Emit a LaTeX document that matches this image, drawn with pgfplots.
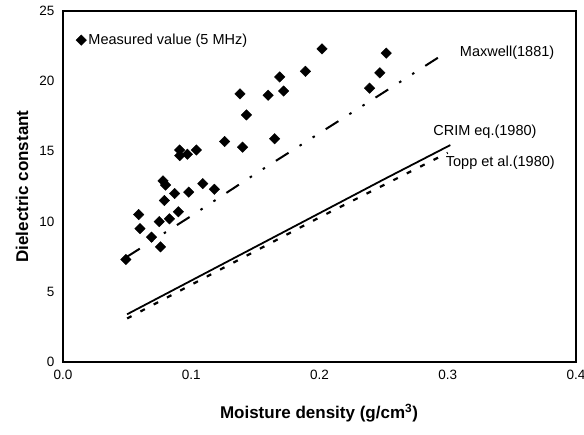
\documentclass[border=0pt]{standalone}
\usepackage{fontspec}
\setmainfont{Liberation Sans}
\usepackage{pgfplots}
\pgfplotsset{compat=1.18}
\begin{document}
\begin{tikzpicture}
\begin{axis}[
  scale only axis, width=513pt, height=351pt,
  xmin=0, xmax=0.4, ymin=0, ymax=25,
  xtick={0,0.1,0.2,0.3,0.4}, ytick={0,5,10,15,20,25},
  major tick length=0pt,
  axis line style={line width=2.8pt, black},
  /pgf/number format/assume math mode=true,
  xticklabel style={/pgf/number format/fixed, /pgf/number format/precision=1, /pgf/number format/fixed zerofill, font=\fontsize{13.5}{15}\selectfont, yshift=-5pt},
  yticklabel style={font=\fontsize{13.5}{15}\selectfont, xshift=-5pt},
  scaled x ticks=false,
  xlabel={\textbf{Moisture density (g/cm$^{\mathbf{3}}$)}},
  ylabel={\textbf{Dielectric constant}},
  every axis x label/.style={at={(axis description cs:0.499,-0.145)}, anchor=center, font=\fontsize{17}{20}\selectfont},
  every axis y label/.style={at={(axis description cs:-0.080,0.5)}, rotate=90, anchor=center, font=\fontsize{17}{20}\selectfont},
  legend style={draw=none, fill=none, at={(axis description cs:0.025,0.917)}, anchor=west, font=\fontsize{14.5}{17}\selectfont, inner sep=0pt},
  legend cell align=left,
  legend image code/.code={\draw[#1] (0.2cm,0cm) -- plot coordinates {(0.2cm,0cm)};},
  clip=false,
]
\addplot[only marks, mark=square*, mark size=3.7pt, mark options={rotate=45, fill=black, draw=black}] coordinates {
(0.049,7.3) (0.059,10.5) (0.060,9.5) (0.069,8.9) (0.075,10.0) (0.076,8.2)
(0.078,12.9) (0.080,12.6) (0.079,11.5) (0.083,10.2) (0.087,12.0) (0.090,10.7)
(0.091,15.1) (0.091,14.7) (0.097,14.8) (0.098,12.1) (0.104,15.1) (0.109,12.7)
(0.118,12.3) (0.126,15.7) (0.138,19.1) (0.140,15.3) (0.143,17.6) (0.160,19.0)
(0.165,15.9) (0.169,20.3) (0.172,19.3) (0.189,20.7) (0.202,22.3) (0.239,19.5)
(0.247,20.6) (0.252,22.0)
};
\addlegendentry{Measured value (5 MHz)}
\addplot[black, line width=2pt, dash pattern=on 15pt off 13pt on 2.5pt off 13pt on 2.5pt off 13pt, forget plot] coordinates {
(0.05,7.5) (0.10,10.4) (0.15,13.4) (0.20,16.3) (0.25,19.2) (0.298,22.0)
};
\addplot[black, line width=1.8pt, forget plot] coordinates {
(0.05,3.4) (0.10,5.8) (0.15,8.2) (0.20,10.6) (0.25,13.0) (0.302,15.45)
};
\addplot[black, line width=2.2pt, dash pattern=on 5pt off 10pt, forget plot] coordinates {
(0.05,3.1) (0.10,5.5) (0.15,7.9) (0.20,10.3) (0.25,12.6) (0.30,14.9)
};
\node[font=\fontsize{14.5}{17}\selectfont] at (axis cs:0.3463,22.0) {Maxwell(1881)};
\node[font=\fontsize{14.5}{17}\selectfont] at (axis cs:0.329,16.4) {CRIM eq.(1980)};
\node[font=\fontsize{14.5}{17}\selectfont] at (axis cs:0.341,14.17) {Topp et al.(1980)};
\end{axis}
\draw[line width=2.8pt, black] (0,0) rectangle (513pt,351pt);
\pgfresetboundingbox
\path (-63pt,-72pt) rectangle (521pt,362pt);
\end{tikzpicture}
\end{document}
